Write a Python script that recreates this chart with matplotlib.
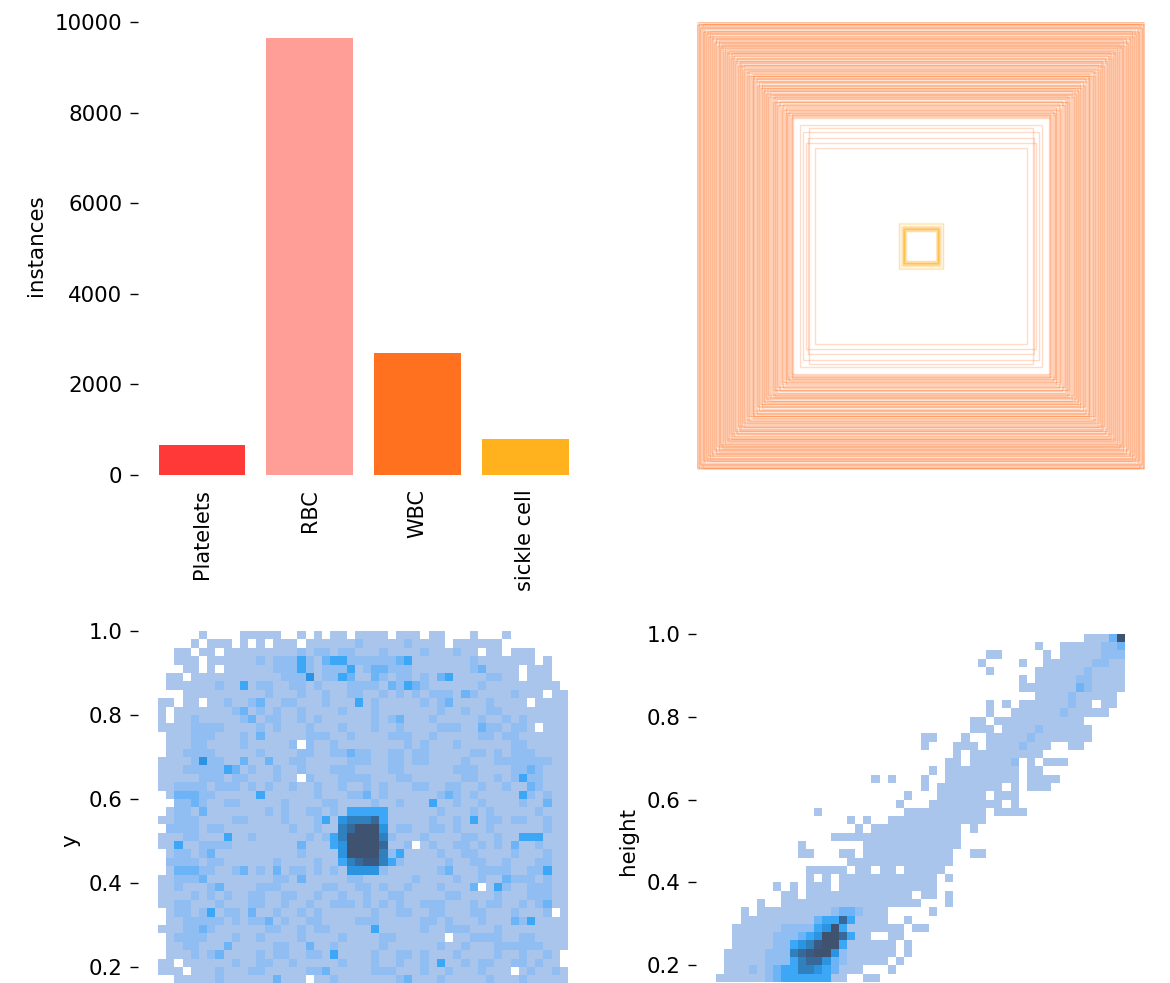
import numpy as np
import matplotlib
matplotlib.use('Agg')
import matplotlib.pyplot as plt
from matplotlib.colors import ListedColormap, BoundaryNorm
from matplotlib.patches import Rectangle

plt.rcParams['font.family'] = 'DejaVu Sans'
plt.rcParams['font.size'] = 15.4

names = ['Platelets', 'RBC', 'WBC', 'sickle cell']
instances = [660, 9650, 2690, 795]
bar_colors = ['#FF3838', '#FF9D97', '#FF701F', '#FFB21D']

# label boxes (WBC), width and height as a fraction of the image
wbc_w = [1.000, .996, .989, .985, .978, .970, .967, .958, .953, .946, .941, .933, .928, .920, .916,
         .907, .903, .896, .888, .884, .875, .871, .862, .858, .850, .846, .838, .832, .826, .817,
         .813, .806, .798, .795, .786, .781, .773, .769, .760, .755, .748, .741, .737, .728, .724,
         .716, .710, .703, .698, .690, .684, .679, .670, .666, .658, .651, .647, .638, .633, .625,
         .619, .613, .604, .600, .592, .585, .577, .571, .540, .527, .504, .473, .498, .515,
         .998, .992, .987, .981, .975, .972, .964, .961, .955, .950, .944, .938, .931, .925, .922,
         .913, .910, .901, .899, .892, .885, .880, .877, .868, .866, .855, .853, .844, .841, .835,
         .829, .822, .819, .810, .803, .800, .791, .789, .778, .776, .766, .763, .752, .750, .744,
         .733, .731, .721, .719, .712, .706, .700, .693, .687, .681, .674, .662, .660, .654, .644,
         .642, .628, .622, .616, .608, .602, .596, .588, .582, .575]
wbc_h = [1.000, .992, .993, .979, .982, .961, .974, .952, .960, .938, .950, .927, .936, .912, .925,
         .899, .912, .887, .897, .876, .885, .862, .870, .850, .860, .837, .848, .824, .835, .810,
         .822, .797, .807, .786, .795, .773, .783, .760, .770, .747, .757, .733, .745, .720, .733,
         .707, .718, .696, .705, .683, .692, .672, .678, .659, .666, .644, .655, .631, .641, .618,
         .627, .606, .612, .594, .600, .579, .585, .576, .540, .508, .482, .437, .525, .462,
         .985, .999, .972, .993, .990, .957, .978, .948, .970, .935, .958, .925, .947, .916, .905,
         .930, .895, .918, .885, .908, .902, .866, .892, .855, .880, .872, .838, .860, .826, .852,
         .815, .840, .804, .826, .818, .788, .808, .775, .792, .760, .782, .748, .768, .736, .758,
         .750, .716, .738, .704, .726, .692, .716, .678, .702, .665, .690, .676, .645, .668, .630,
         .656, .646, .608, .632, .594, .620, .584, .603, .570, .590]
# sickle cell boxes sit in the middle of the image
sickle_w = [.066, .070, .072, .074, .075, .076, .077, .078, .079, .080, .082, .084, .090, .096, .100]
sickle_h = [.068, .069, .073, .074, .076, .075, .078, .077, .080, .081, .083, .085, .088, .098, .104]

# x,y and width,height histograms: 50 bins, top rows only, '.' is an empty bin,
# 1-9 goes from faint to the darkest colour
xy_rows = [
    "..... 1.... 11111 ..1.1 .11.1 111.1 11.11 ...1. ..1.. .....",
    "....1 .111. 1.1.1 11.11 11112 11111 21111 .1111 11... .....",
    "..11. 11.11 11111 11212 21221 11211 11211 1211. 11.11 1....",
    "..111 .1111 11212 22421 34422 22223 41111 11121 11111 1.1..",
    "...11 .1.11 11112 22421 22241 23322 21111 11123 1111. 111..",
    ".11.1 11111 11111 22251 22431 13212 21213 41111 2211. 111..",
    ".1111 11211 41221 12212 11122 22132 43211 11112 11111 1111.",
    "...11 11111 11121 11211 21122 11212 12122 21321 11121 11.11",
    "11.11 .1121 12311 22111 21114 12111 11212 31111 21111 .1111",
    "1.111 11112 31212 11211 11211 12111 11112 11211 22111 11111",
    "1.112 11111 23122 11212 11111 12123 11121 11112 11212 11111",
    "11112 22211 11212 11121 11211 12112 11112 22113 22122 1.111",
    ".1112 22111 21311 11122 21121 11122 21121 11112 21221 11111",
    ".1112 21111 21111 12.21 12111 11111 21211 12111 11122 11111",
    ".1122 22111 11211 11221 12232 21122 12211 11122 12122 21111",
    "11112 52211 31131 12211 11122 21122 12211 11211 12222 22211",
    "11122 22243 12112 11211 12221 11122 11111 12221 11122 32111",
    "11111 22212 21112 11.21 11222 21112 21111 11221 12124 22111",
    "11222 21222 12121 12112 11211 21211 12211 22112 11211 32111",
    ".1333 22111 11411 11112 11122 31211 11112 32121 11114 21211",
    "..223 21122 11111 21111 22111 12112 11141 12112 11112 11311",
    ".1221 31111 11121 21122 12144 44411 11112 11121 21111 12111",
    "11222 11112 21111 21112 41566 67411 11121 12141 22122 11211",
    ".2222 12211 11111 12112 11679 99512 21122 12111 21111 11211",
    "11122 11141 12111 11121 24699 99621 11211 11221 12114 44111",
    "11411 22221 11111 11311 14599 99711 2.121 12212 12131 12111",
    ".1221 23111 11111 11211 11599 99624 11112 11221 11121 11211",
    ".2222 12211 11112 11112 11467 88642 11111 21122 11211 12211",
    ".1333 22112 31213 12212 12155 55211 11112 31112 22211 22411",
    "11222 31111 11112 21311 11122 11111 12111 12112 11322 21211",
    "11211 12311 11222 11111 22112 21211 21112 1113. 14211 22211",
    "11112 12121 12211 22112 11211 21122 11111 22111 12111 22211",
    "11221 11211 12211 21121 12221 21212 11222 11121 22112 12311",
    ".1221 24122 13112 11212 11111 12112 21122 11122 11121 112.1",
    ".1122 22212 12231 21122 11112 22111 11221 21112 11132 41111",
    "11122 32111 11122 11212 21111 14111 11211 22211 12111 11111",
    ".1222 21112 11211 11211 11211 11221 11111 .1122 22112 21111",
    ".1122 11131 11112 21131 12111 11211 11112 11211 12222 22111",
    ".1112 12311 11212 21122 14111 12112 21211 12111 12112 1121.",
    "11.11 11112 11221 12111 11211 12112 11214 11212 21122 1211.",
    "111.1 11211 12211 11122 31111 12221 11211 21112 111.1 21121",
    "..111 11211 11113 111.1 12111 11112 31112 11111 21112 11111",
]
wh_rows = [
    "..... ..... ..... ..... ..... ..... ..... ..... ..... 11139",
    "..... ..... ..... ..... ..... ..... ..... ....1 ..111 11223",
    "..... ..... ..... ..... ..... ..... ...11 ..... 1.111 11222",
    "..... ..... ..... ..... ..... ..... ..1.. ..1.. 11111 12211",
    "..... ..... ..... ..... ..... ..... ...1. ....1 11111 21111",
    "..... ..... ..... ..... ..... ..... ..... ..1.1 11112 21111",
    "..... ..... ..... ..... ..... ..... ..... ..111 11113 21111",
    "..... ..... ..... ..... ..... ..... ..... ....1 11121 1111.",
    "..... ..... ..... ..... ..... ..... ...1. 1.111 11121 1.11.",
    "..... ..... ..... ..... ..... ..... ...1. .1111 11211 111..",
    "..... ..... ..... ..... ..... ..... .11.1 11111 11111 .....",
    "..... ..... ..... ..... ..... ..... .111. 11112 11111 1....",
    "..... ..... ..... ..... ..... 11... 1..11 11121 11111 1....",
    "..... ..... ..... ..... ..... 1...1 11.11 11211 1..11 .....",
    "..... ..... ..... ..... ..... ....1 .1111 11111 ..... .....",
    "..... ..... ..... ..... ..... ...11 .1111 12.1. 111.. .....",
    "..... ..... ..... ..... ..... .1.11 11111 11.11 ..... .....",
    "..... ..... ..... ....1 .1... 1..11 11111 11.11 11... .....",
    "..... ..... ..... ..... ..... 1.111 11111 .1.11 1.... .....",
    "..... ..... ..... ..... ...1. ..111 111.1 11... ..... .....",
    "..... ..... ..... ..... ..1.. .1111 11111 .1... ..... .....",
    "..... ..... ..1.. ..... ...11 11111 111.1 111.. ..... .....",
    "..... ..... ..... .1.1. .1111 11111 111.. ..... ..... .....",
    "..... ..... ..... ..1.1 11111 11111 .1... ..... ..... .....",
    "..... ..... ....1 11111 11111 11111 ..... ..... ..... .....",
    "..... ..... 1.... ...11 11111 11111 ..... ..... ..... .....",
    "..... ..... 11... 11.11 11111 1111. .11.. ..... ..... .....",
    "..... ..... ..... .1111 11111 1111. ..... ..... ..... .....",
    "..... ..... .1111 1.11. 11.11 111.. ..... ..... ..... .....",
    "..... ..... .1.1. 11111 11111 11.1. ..... ..... ..... .....",
    "..... ..1.1 .111. 11111 11111 11... ..... ..... ..... .....",
    "..... ...11 .1111 11111 1111. 11.1. ..... ..... ..... .....",
    "..... 1..11 11111 11111 11111 ...1. ..... ..... ..... .....",
    "...1. 11111 11112 33211 1.... .1... ..... ..... ..... .....",
    "...11 11111 11344 74111 1..1. ..... ..... ..... ..... .....",
    "..111 11122 22459 41111 111.1 1.... ..... ..... ..... .....",
    "..111 11222 34599 7411. .11.. ..... ..... ..... ..... .....",
    "..111 11224 56899 41111 11.1. ..... ..... ..... ..... .....",
    ".1111 12226 78995 21111 11.1. ..... ..... ..... ..... .....",
    ".1111 12224 67753 21111 1.1.. ..... ..... ..... ..... .....",
    ".1112 12344 66543 111.. .1... ..... ..... ..... ..... .....",
    "11111 12344 44441 1..11 ..... ..... ..... ..... ..... .....",
]
hist_colors = ['#A9C5EC', '#90BDF2', '#6DB4F6', '#3DA7F7', '#2B93DF', '#3180BE', '#36689A', '#3A5A82', '#3F5270']

W, H = 1170, 983
fig = plt.figure(figsize=(W / 100, H / 100), dpi=100)


# place an axes by its pixel box in the picture
def px_axes(left, top, right, bottom):
    return fig.add_axes([left / W, 1 - bottom / H, (right - left) / W, (bottom - top) / H])


def clean(ax):
    for s in ax.spines.values():
        s.set_visible(False)
    ax.tick_params(axis='y', length=5.8, width=1, pad=5.5)


# instances
ax = px_axes(138, 16, 589, 475)
ax.bar(range(4), instances, width=0.8, color=bar_colors)
ax.set_xticks(range(4))
ax.set_xticklabels(names, rotation=90, fontsize=15)
ax.tick_params(axis='x', length=0, pad=10)
ax.set_yticks(range(0, 10001, 2000))
ax.set_ylim(0, 10130)
ax.set_ylabel('instances', labelpad=6)
clean(ax)

# boxes
ax = px_axes(697, 22, 1145, 470)
for w, h in zip(wbc_w, wbc_h):
    ax.add_patch(Rectangle((.5 - w / 2, .5 - h / 2), w, h, fill=False, ec='#FF701F', lw=1.0, alpha=.24))
for w, h in zip(sickle_w, sickle_h):
    ax.add_patch(Rectangle((.5 - w / 2, .5 - h / 2), w, h, fill=False, ec='#FFB21D', lw=1.0, alpha=.22))
ax.set_xlim(0, 1)
ax.set_ylim(0, 1)
ax.axis('off')

cmap = ListedColormap(hist_colors)
norm = BoundaryNorm(np.arange(0.5, 10), cmap.N)
edges = np.linspace(0, 1, 51)


def hist_panel(ax, rows, ylabel):
    data = np.full((50, 50), np.nan)
    for r, row in enumerate(rows):
        row = row.replace(' ', '')
        for c, ch in enumerate(row[:50]):
            if ch != '.':
                data[49 - r, c] = int(ch)
    ax.pcolormesh(edges, edges, np.ma.masked_invalid(data), cmap=cmap, norm=norm, linewidth=0)
    ax.set_xlim(-.0488, 1.0512)
    ax.set_ylim(-.0476, 1.0476)
    ax.set_xticks([])
    ax.set_yticks([.2, .4, .6, .8, 1.0])
    ax.set_ylabel(ylabel, labelpad=6)
    clean(ax)


hist_panel(px_axes(138, 611, 589, 1071), xy_rows, 'y')
hist_panel(px_axes(696, 614, 1146, 1068), wh_rows, 'height')

fig.savefig('out.png', dpi=100)
